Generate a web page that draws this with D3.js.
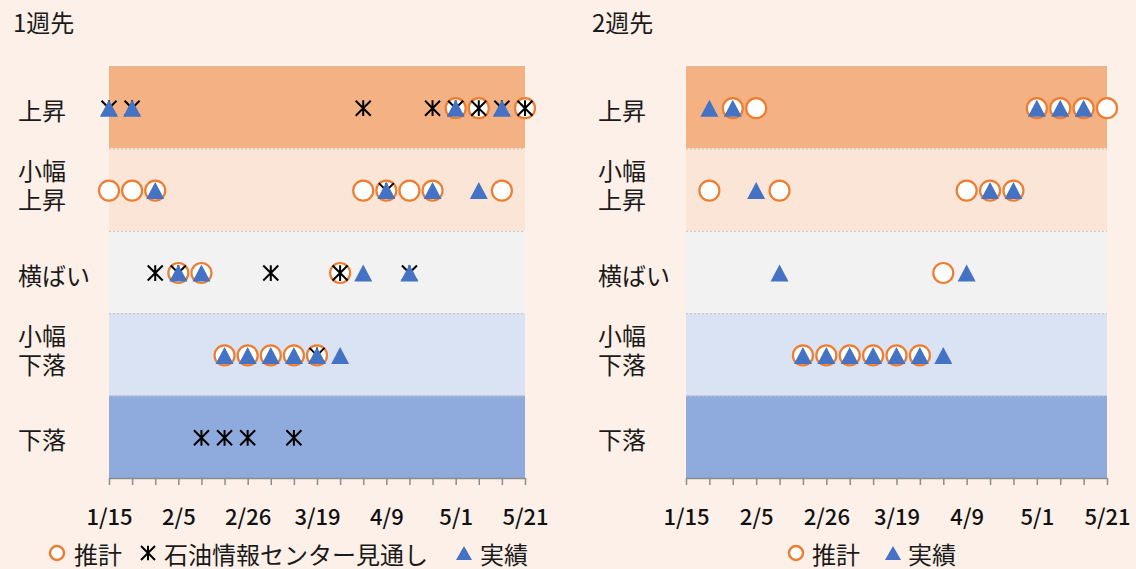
<!DOCTYPE html>
<html lang="ja">
<head>
<meta charset="utf-8">
<script src="https://cdn.jsdelivr.net/npm/d3@7"></script>
<style>
  html, body { margin: 0; padding: 0; background: #FDF0E8; }
  svg { display: block; font-family: "Noto Sans CJK JP", "Noto Sans", sans-serif; }
</style>
</head>
<body>
<svg id="chart" width="1136" height="569"></svg>
<script>
// Price-direction levels, top to bottom
const levels = ["上昇", "小幅上昇", "横ばい", "小幅下落", "下落"];
const levelLines = [["上昇"], ["小幅", "上昇"], ["横ばい"], ["小幅", "下落"], ["下落"]];
const levelColors = ["#F4B183", "#FBE5D6", "#F2F2F2", "#DAE3F3", "#8FAADC"];

// Weekly survey dates
const weeks = ["1/15", "1/22", "1/29", "2/5", "2/12", "2/19", "2/26", "3/5", "3/12", "3/19",
               "3/26", "4/2", "4/9", "4/16", "4/23", "5/1", "5/7", "5/14", "5/21"];
const tickLabels = ["1/15", "2/5", "2/26", "3/19", "4/9", "5/1", "5/21"];

// One week ahead
const week1Estimate = ["小幅上昇", "小幅上昇", "小幅上昇", "横ばい", "横ばい", "小幅下落", "小幅下落",
  "小幅下落", "小幅下落", "小幅下落", "横ばい", "小幅上昇", "小幅上昇", "小幅上昇", "小幅上昇",
  "上昇", "上昇", "小幅上昇", "上昇"];
const week1Outlook = ["上昇", "上昇", "横ばい", "横ばい", "下落", "下落", "下落", "横ばい", "下落",
  "小幅下落", "横ばい", "上昇", "小幅上昇", "横ばい", "上昇", "上昇", "上昇", "上昇", "上昇"];
const week1Actual = ["上昇", "上昇", "小幅上昇", "横ばい", "横ばい", "小幅下落", "小幅下落", "小幅下落",
  "小幅下落", "小幅下落", "小幅下落", "横ばい", "小幅上昇", "横ばい", "小幅上昇", "上昇", "小幅上昇",
  "上昇", null];

// Two weeks ahead
const week2Estimate = [null, "小幅上昇", "上昇", "上昇", "小幅上昇", "小幅下落", "小幅下落", "小幅下落",
  "小幅下落", "小幅下落", "小幅下落", "横ばい", "小幅上昇", "小幅上昇", "小幅上昇", "上昇", "上昇",
  "上昇", "上昇"];
const week2Actual = [null, "上昇", "上昇", "小幅上昇", "横ばい", "小幅下落", "小幅下落", "小幅下落",
  "小幅下落", "小幅下落", "小幅下落", "小幅下落", "横ばい", "小幅上昇", "小幅上昇", "上昇", "上昇",
  "上昇", null];

const svg = d3.select("#chart");
const plotTop = 66, plotBottom = 478;
const fontSize = 24;

const y = d3.scaleBand().domain(levels).range([plotTop, plotBottom]).padding(0);

const starPath = (s) => `M${-s},${-s}L${s},${s}M${s},${-s}L${-s},${s}M0,${-s * 1.05}L0,${s * 1.05}`;
const triPath = (w, h) => `M0,${-h / 2}L${w / 2},${h / 2}L${-w / 2},${h / 2}Z`;

function drawPanel(opts) {
  const g = svg.append("g");
  const x = d3.scalePoint().domain(weeks).range([opts.x0, opts.x1]);

  // title
  g.append("text").attr("x", opts.titleX).attr("y", 21)
    .attr("dominant-baseline", "central").attr("font-size", fontSize).attr("fill", "#1a1a1a")
    .text(opts.title);

  // level bands
  g.selectAll("rect.band").data(levels).join("rect")
    .attr("x", opts.x0).attr("width", opts.x1 - opts.x0)
    .attr("y", d => y(d)).attr("height", y.bandwidth())
    .attr("fill", (d, i) => levelColors[i]);

  // dotted boundaries
  g.selectAll("line.grid").data(levels).join("line")
    .attr("x1", opts.x0).attr("x2", opts.x1)
    .attr("y1", d => y(d) + 0.5).attr("y2", d => y(d) + 0.5)
    .attr("stroke", "#c8c0bb").attr("stroke-width", 1).attr("stroke-dasharray", "2,2");

  // level labels (two-line labels use one text element per line)
  levels.forEach((lv, i) => {
    const cy = y(lv) + y.bandwidth() / 2;
    const lines = levelLines[i];
    lines.forEach((ln, j) => {
      const off = lines.length === 1 ? 2 : (j === 0 ? -20 : 9);
      g.append("text").attr("font-size", fontSize).attr("fill", "#1a1a1a")
        .attr("x", opts.labelX).attr("y", cy + off)
        .attr("dominant-baseline", "central").text(ln);
    });
  });

  // x axis
  const axis = d3.axisBottom(x).tickSize(7).tickSizeOuter(0)
    .tickFormat(d => tickLabels.includes(d) ? d : "");
  const ax = g.append("g").attr("transform", `translate(0,${plotBottom})`).call(axis);
  ax.select(".domain").attr("stroke", "#8c8c8c").attr("stroke-width", 1.5);
  ax.selectAll(".tick line").attr("stroke", "#8c8c8c").attr("stroke-width", 1.5);
  ax.selectAll(".tick text").attr("font-size", 22).attr("font-weight", 500).attr("fill", "#111")
    .attr("font-family", '"Noto Sans CJK JP", sans-serif')
    .attr("dy", null).attr("y", 37).attr("dominant-baseline", "central");

  const pts = arr => arr.map((v, i) => ({ w: weeks[i], v })).filter(d => d.v !== null);
  const cyOf = v => y(v) + y.bandwidth() / 2 + 1;

  // estimates: white circles
  g.selectAll("circle.est").data(pts(opts.estimate)).join("circle")
    .attr("cx", d => x(d.w)).attr("cy", d => cyOf(d.v)).attr("r", 10)
    .attr("fill", "#fff").attr("stroke", "#ED7D31").attr("stroke-width", 2.2);

  // outlook: star markers
  if (opts.outlook) {
    g.selectAll("path.out").data(pts(opts.outlook)).join("path")
      .attr("transform", d => `translate(${x(d.w)},${cyOf(d.v)})`)
      .attr("d", starPath(7.5)).attr("fill", "none")
      .attr("stroke", "#000").attr("stroke-width", 2);
  }

  // actual: blue triangles
  g.selectAll("path.act").data(pts(opts.actual)).join("path")
    .attr("transform", d => `translate(${x(d.w)},${cyOf(d.v)})`)
    .attr("d", triPath(18, 17)).attr("fill", "#4472C4");

  // legend
  const lg = g.append("g").attr("font-size", fontSize).attr("fill", "#1a1a1a");
  const ly = 553;
  opts.legend.forEach(item => {
    if (item.type === "circle") {
      lg.append("circle").attr("cx", item.mx).attr("cy", ly).attr("r", 7)
        .attr("fill", "#fff").attr("stroke", "#ED7D31").attr("stroke-width", 2.5);
    } else if (item.type === "star") {
      lg.append("path").attr("transform", `translate(${item.mx},${ly})`)
        .attr("d", starPath(7)).attr("stroke", "#000").attr("stroke-width", 2).attr("fill", "none");
    } else {
      lg.append("path").attr("transform", `translate(${item.mx},${ly})`)
        .attr("d", triPath(16, 14)).attr("fill", "#4472C4");
    }
    lg.append("text").attr("x", item.tx).attr("y", ly).attr("dominant-baseline", "central")
      .text(item.text);
  });
}

drawPanel({
  title: "1週先", titleX: 13, labelX: 18, x0: 109, x1: 525,
  estimate: week1Estimate, outlook: week1Outlook, actual: week1Actual,
  legend: [
    { type: "circle", mx: 57, tx: 74, text: "推計" },
    { type: "star", mx: 148, tx: 164, text: "石油情報センター見通し" },
    { type: "tri", mx: 464, tx: 480, text: "実績" }
  ]
});

drawPanel({
  title: "2週先", titleX: 592, labelX: 598, x0: 686, x1: 1107,
  estimate: week2Estimate, outlook: null, actual: week2Actual,
  legend: [
    { type: "circle", mx: 796, tx: 812, text: "推計" },
    { type: "tri", mx: 893, tx: 908, text: "実績" }
  ]
});
</script>
</body>
</html>
